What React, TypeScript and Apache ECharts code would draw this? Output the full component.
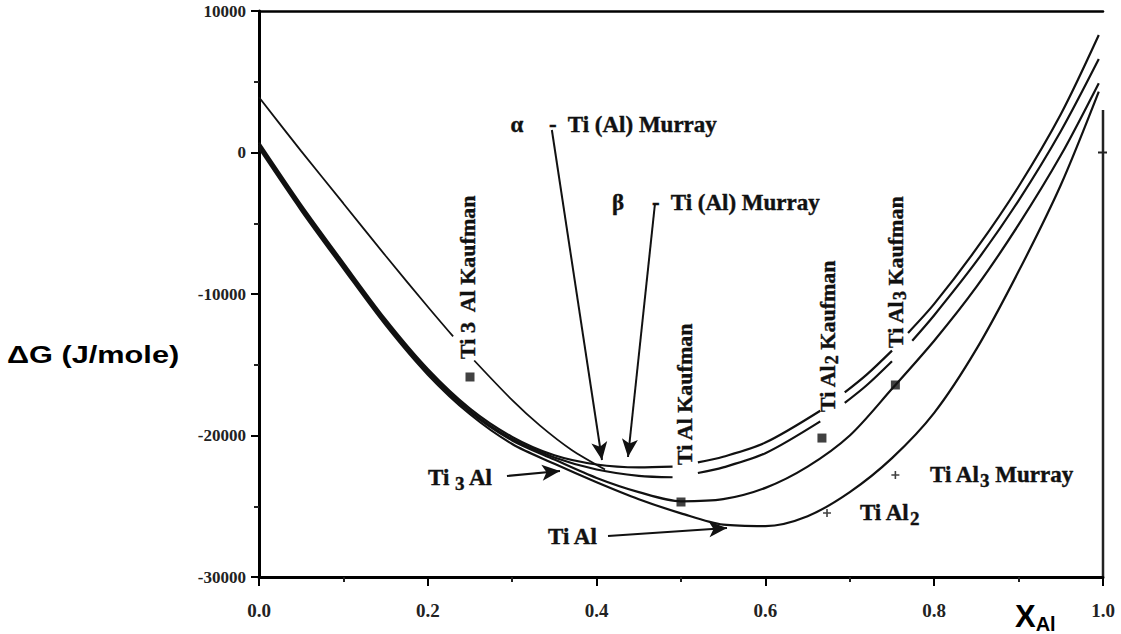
import React, { useEffect, useRef } from "react";
import * as echarts from "echarts";

// ---------- data (X_Al, ΔG J/mole) ----------
const xTickStep = 0.2;
const yTickStep = 10000;

// α - Ti(Al) Murray (upper line of the bundle, then upper line of the right pair; gaps hold labels)
const alphaMurraySegments: number[][][] = [
  [[0, 700], [0.05, -3700], [0.1, -7800], [0.15, -11800], [0.2, -15300], [0.25, -18100], [0.3, -20100], [0.35, -21400], [0.4, -22050], [0.45, -22250], [0.49, -22200]],
  [[0.52, -21900], [0.55, -21500], [0.6, -20500], [0.665, -18250]],
  [[0.694, -16960], [0.72, -15700], [0.75, -14000]],
  [[0.769, -12750], [0.8, -10700], [0.85, -6800], [0.9, -2400], [0.95, 2700], [0.995, 8300]],
];
// β - Ti(Al) Murray
const betaMurraySegments: number[][][] = [
  [[0, 550], [0.05, -3850], [0.1, -7950], [0.15, -11950], [0.2, -15450], [0.25, -18250], [0.3, -20250], [0.35, -21550], [0.4, -22400], [0.45, -22850], [0.49, -22950]],
  [[0.52, -22650], [0.55, -22250], [0.6, -21250], [0.665, -19000]],
  [[0.694, -17700], [0.72, -16450], [0.75, -14750]],
  [[0.774, -13300], [0.8, -11500], [0.85, -7700], [0.9, -3400], [0.95, 1500], [0.995, 6600]],
];
// Ti Al Kaufman (curve through the square at 0.5)
const tiAlKaufman: number[][] = [
  [0, 450], [0.05, -3950], [0.1, -8050], [0.15, -12050], [0.2, -15550], [0.25, -18350], [0.3, -20350], [0.35, -21700],
  [0.4, -23000], [0.45, -24000], [0.5, -24650], [0.55, -24500], [0.6, -23700], [0.65, -22200], [0.7, -20000],
  [0.75, -16700], [0.8, -13300], [0.85, -9500], [0.9, -5100], [0.95, -200], [0.995, 4900],
];
// Ti Al Murray (lowest curve, minimum near 0.58)
const tiAlMurray: number[][] = [
  [0, 300], [0.05, -4100], [0.1, -8200], [0.15, -12200], [0.2, -15700], [0.25, -18500], [0.3, -20600], [0.35, -22000],
  [0.4, -23300], [0.45, -24500], [0.5, -25500], [0.55, -26300], [0.6, -26400], [0.65, -25700], [0.7, -24000],
  [0.75, -21600], [0.8, -18400], [0.85, -13900], [0.9, -8400], [0.95, -2300], [0.995, 4300],
];
// Ti3Al Kaufman (thin line from 3900 at X=0, broken for its label)
const ti3AlKaufmanSegments: number[][][] = [
  [[0, 3900], [0.05, 100], [0.1, -3600], [0.15, -7300], [0.2, -10900], [0.23, -13000]],
  [[0.255, -14700], [0.3, -17500], [0.333, -19300], [0.37, -21000], [0.41, -22400]],
];
// compound points
const kaufmanPoints: number[][] = [[0.25, -15865], [0.5, -24700], [0.667, -20180], [0.754, -16430]];
const murrayPoints: number[][] = [[0.673, -25476], [0.754, -22790]];

// arrows [from, to]
const arrows: number[][][] = [
  [[0.347, 1590], [0.4064, -21730]],
  [[0.469, -3710], [0.4372, -21520]],
  [[0.2938, -22860], [0.3566, -22510]],
  [[0.4135, -27100], [0.5545, -26540]],
];

// annotation texts and anchors
const hLabels: { text: string; at: number[]; align: string }[] = [
  { text: "α", at: [0.3057, 1944], align: "center" },
  { text: "-  Ti (Al) Murray", at: [0.3436, 1944], align: "left" },
  { text: "β", at: [0.4254, -3500], align: "center" },
  { text: "-  Ti (Al) Murray", at: [0.4656, -3500], align: "left" },
  { text: "Ti {s|3} Al", at: [0.2002, -23000], align: "left" },
  { text: "Ti Al", at: [0.3424, -27170], align: "left" },
  { text: "Ti Al{s|2}", at: [0.712, -25476], align: "left" },
  { text: "Ti Al{s|3} Murray", at: [0.795, -22790], align: "left" },
];
const vLabels: { text: string; at: number[] }[] = [
  { text: "Ti 3  Al Kaufman", at: [0.2476, -14590] },
  { text: "Ti Al Kaufman", at: [0.5036, -22080] },
  { text: "Ti Al{v|2} Kaufman", at: [0.674, -18340] },
  { text: "Ti Al{v|3} Kaufman", at: [0.7536, -13815] },
];
const rightFrameTop = 3000;

const SERIF = '"Liberation Serif", "Times New Roman", serif';
const SANS = '"Liberation Sans", Arial, sans-serif';

export default function App() {
  const ref = useRef<HTMLDivElement>(null);
  useEffect(() => {
    const el = ref.current!;
    const chart = echarts.init(el, null, { renderer: "svg" });
    const lineStyle = { color: "#111", width: 2.2 };
    const mk = (data: number[][]) => ({
      type: "line",
      data,
      symbol: "none",
      smooth: 0.3,
      lineStyle,
      silent: true,
      z: 3,
    });
    const series: any[] = [
      {
        type: "scatter",
        data: kaufmanPoints,
        symbol: "rect",
        symbolSize: 9,
        itemStyle: { color: "#111" },
        silent: true,
        z: 5,
        markLine: {
          silent: true,
          symbol: ["none", "arrow"],
          symbolSize: [12, 18],
          lineStyle: { color: "#111", width: 2, type: "solid" },
          label: { show: false },
          emphasis: { disabled: true },
          data: arrows.map((a) => [{ coord: a[0] }, { coord: a[1] }]),
        },
      },
      {
        type: "scatter",
        data: murrayPoints,
        symbol: "path://M4,0 L6,0 L6,4 L10,4 L10,6 L6,6 L6,10 L4,10 L4,6 L0,6 L0,4 L4,4 Z",
        symbolSize: 8,
        itemStyle: { color: "#111" },
        silent: true,
        z: 5,
      },
      ...alphaMurraySegments.map(mk),
      ...betaMurraySegments.map(mk),
      mk(tiAlKaufman),
      mk(tiAlMurray),
      ...ti3AlKaufmanSegments.map((s) => ({ ...mk(s), lineStyle: { color: "#111", width: 1.8 } })),
    ];

    chart.setOption({
      animation: false,
      backgroundColor: "#fff",
      grid: { left: 259, right: 18, top: 11, bottom: 57, containLabel: false },
      xAxis: [
        {
          type: "value",
          min: 0,
          max: 1,
          interval: xTickStep,
          axisLine: { show: true, onZero: false, lineStyle: { color: "#000", width: 3 } },
          axisTick: { show: true, inside: false, length: 9, lineStyle: { color: "#000", width: 2 } },
          minorTick: { show: true, splitNumber: 2, length: 5, lineStyle: { color: "#222", width: 2 } },
          splitLine: { show: false },
          axisLabel: {
            margin: 24,
            formatter: (v: number) => v.toFixed(1),
            fontFamily: SERIF,
            fontWeight: "bold",
            fontSize: 19,
            color: "#222",
          },
        },
        {
          type: "value",
          position: "top",
          min: 0,
          max: 1,
          axisLine: { show: true, onZero: false, lineStyle: { color: "#000", width: 2.5 } },
          axisTick: { show: false },
          axisLabel: { show: false },
          splitLine: { show: false },
        },
      ],
      yAxis: {
        type: "value",
        min: -30000,
        max: 10000,
        interval: yTickStep,
        axisLine: { show: true, onZero: false, lineStyle: { color: "#000", width: 3 } },
        axisTick: { show: true, inside: false, length: 8, lineStyle: { color: "#000", width: 2 } },
        minorTick: { show: true, splitNumber: 2, length: 5, lineStyle: { color: "#222", width: 2 } },
        splitLine: { show: false },
        axisLabel: {
          margin: 13,
          formatter: (v: number) => String(v),
          fontFamily: SERIF,
          fontWeight: "bold",
          fontSize: 17,
          color: "#222",
        },
      },
      series,
    });

    const px = (p: number[]) => chart.convertToPixel({ seriesIndex: 0 }, p) as number[];
    const font = { fontFamily: SERIF, fontWeight: "bold", fontSize: 23, fill: "#111", stroke: "#111", lineWidth: 0.4 };
    const elements: any[] = [];
    const topR = px([1, rightFrameTop]);
    const botR = px([1, -30000]);
    const zeroR = px([1, 0]);
    elements.push({
      type: "line",
      shape: { x1: topR[0], y1: topR[1], x2: botR[0], y2: botR[1] },
      style: { stroke: "#222", lineWidth: 2.5 },
      silent: true,
    });
    elements.push({
      type: "line",
      shape: { x1: zeroR[0] - 5, y1: zeroR[1], x2: zeroR[0] + 4, y2: zeroR[1] },
      style: { stroke: "#222", lineWidth: 2 },
      silent: true,
    });
    hLabels.forEach((l) => {
      const p = px(l.at);
      elements.push({
        type: "text",
        x: p[0],
        y: p[1],
        silent: true,
        style: {
          ...font,
          text: l.text,
          align: l.align,
          verticalAlign: "middle",
          rich: { s: { fontFamily: SERIF, fontWeight: "bold", fontSize: 19, fill: "#111", padding: [11, 0, 0, 0] } },
        },
      });
    });
    vLabels.forEach((l) => {
      const p = px(l.at);
      elements.push({
        type: "text",
        x: p[0],
        y: p[1],
        rotation: Math.PI / 2,
        silent: true,
        style: {
          ...font,
          fontSize: 22,
          text: l.text,
          align: "left",
          verticalAlign: "middle",
          rich: { v: { fontFamily: SERIF, fontWeight: "bold", fontSize: 18, fill: "#111", padding: [9, 0, 0, 0] } },
        },
      });
    });
    // axis titles
    elements.push({
      type: "text",
      x: 7,
      y: 355,
      scaleX: 1.28,
      silent: true,
      style: { text: "ΔG (J/mole)", fontFamily: SANS, fontWeight: "bold", fontSize: 24, fill: "#000", align: "left", verticalAlign: "middle" },
    });
    elements.push({
      type: "text",
      x: 1015,
      y: 616,
      silent: true,
      style: {
        text: "X{a|Al}",
        fontFamily: SANS,
        fontWeight: "bold",
        fontSize: 31,
        fill: "#000",
        align: "left",
        verticalAlign: "middle",
        rich: { a: { fontFamily: SANS, fontWeight: "bold", fontSize: 20, fill: "#000", padding: [16, 0, 0, 0] } },
      },
    });
    chart.setOption({ graphic: { elements } });

    return () => chart.dispose();
  }, []);
  return (
    <div
      ref={ref}
      style={{ position: "fixed", left: 0, top: 0, width: 1121, height: 634, background: "#fff" }}
    />
  );
}
